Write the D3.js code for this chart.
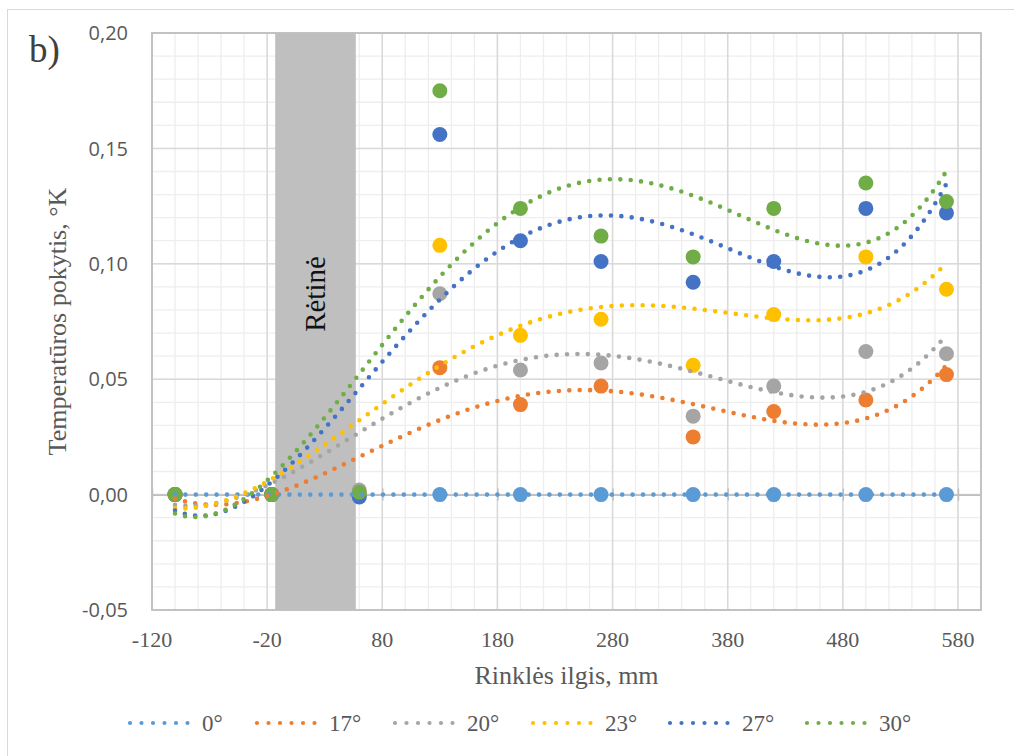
<!DOCTYPE html>
<html>
<head>
<meta charset="utf-8">
<script src="https://cdn.jsdelivr.net/npm/d3@7"></script>
<style>
  html, body { margin: 0; padding: 0; background: #fff; }
  svg { display: block; }
</style>
</head>
<body>
<svg id="chart" width="1014" height="756"></svg>
<script>
// Measurement positions along the fin (mm)
const lengthMm = [-100, -16, 60, 130, 200, 270, 350, 420, 500, 570];

// Temperature change (K) for each inclination angle
const seriesNames = ["0°", "17°", "20°", "23°", "27°", "30°"];
const dT0  = [0, 0, 0, 0, 0, 0, 0, 0, 0, 0];
const dT17 = [0, 0, 0, 0.055, 0.039, 0.047, 0.025, 0.036, 0.041, 0.052];
const dT20 = [0, 0, 0.002, 0.087, 0.054, 0.057, 0.034, 0.047, 0.062, 0.061];
const dT23 = [0, 0, 0, 0.108, 0.069, 0.076, 0.056, 0.078, 0.103, 0.089];
const dT27 = [0, 0, -0.001, 0.156, 0.110, 0.101, 0.092, 0.101, 0.124, 0.122];
const dT30 = [0, 0, 0.001, 0.175, 0.124, 0.112, 0.103, 0.124, 0.135, 0.127];
const seriesValues = [dT0, dT17, dT20, dT23, dT27, dT30];
const seriesColors = ["#5B9BD5", "#ED7D31", "#A5A5A5", "#FFC000", "#4472C4", "#70AD47"];

// Sparse ("Rėtinė") zone along the fin, mm
const sparseZone = [-13, 57];
const sparseLabel = "Rėtinė";

// Axis ticks
const xTicks = [-120, -20, 80, 180, 280, 380, 480, 580];
const yTicks = [-0.05, 0, 0.05, 0.10, 0.15, 0.20];
const yTickLabels = ["-0,05", "0,00", "0,05", "0,10", "0,15", "0,20"];
const polyOrder = 4;

const svg = d3.select("#chart");
const plot = { left: 152, right: 981, top: 33, bottom: 610 };

const x = d3.scaleLinear().domain([-120, 600]).range([plot.left, plot.right]);
const y = d3.scaleLinear().domain([-0.05, 0.20]).range([plot.bottom, plot.top]);

// Outer chart frame
svg.append("rect").attr("x", 7.5).attr("y", 9.5).attr("width", 1100).attr("height", 900)
  .attr("fill", "#fff").attr("stroke", "#D9D9D9").attr("stroke-width", 1);

// Minor gridlines
const g = svg.append("g");
g.selectAll("line.vminor").data(d3.range(-120, 601, 20)).join("line")
  .attr("x1", d => x(d)).attr("x2", d => x(d)).attr("y1", plot.top).attr("y2", plot.bottom)
  .attr("stroke", "#EEEEEE").attr("stroke-width", 1.3);
g.selectAll("line.hminor").data(d3.range(-5, 21).map(i => i / 100)).join("line")
  .attr("x1", plot.left).attr("x2", plot.right).attr("y1", d => y(d)).attr("y2", d => y(d))
  .attr("stroke", "#EEEEEE").attr("stroke-width", 1.3);
// Major gridlines
g.selectAll("line.vmajor").data(xTicks).join("line")
  .attr("x1", d => x(d)).attr("x2", d => x(d)).attr("y1", plot.top).attr("y2", plot.bottom)
  .attr("stroke", "#D9D9D9").attr("stroke-width", 1.5);
g.selectAll("line.hmajor").data(yTicks).join("line")
  .attr("x1", plot.left).attr("x2", plot.right).attr("y1", d => y(d)).attr("y2", d => y(d))
  .attr("stroke", "#D9D9D9").attr("stroke-width", 1.5);

// Sparse zone band
svg.append("rect")
  .attr("x", x(sparseZone[0])).attr("width", x(sparseZone[1]) - x(sparseZone[0]))
  .attr("y", plot.top).attr("height", plot.bottom - plot.top)
  .attr("fill", "#BFBFBF");

// Plot border
svg.append("rect").attr("x", plot.left).attr("y", plot.top)
  .attr("width", plot.right - plot.left).attr("height", plot.bottom - plot.top)
  .attr("fill", "none").attr("stroke", "#BFBFBF").attr("stroke-width", 1.8);

// Horizontal axis line at zero with cross tick marks
const xAxis = d3.axisBottom(x).tickValues(xTicks).tickSizeInner(6).tickSizeOuter(0).tickFormat("");
const xAxisG = svg.append("g").attr("transform", `translate(0,${y(0)})`).call(xAxis);
xAxisG.select(".domain").attr("stroke", "#BFBFBF").attr("stroke-width", 1.8);
xAxisG.selectAll(".tick line").attr("stroke", "#BFBFBF").attr("stroke-width", 1.5).attr("y1", -6);

// Tick labels
svg.append("g").selectAll("text").data(xTicks).join("text")
  .attr("x", d => x(d)).attr("y", 647).attr("text-anchor", "middle")
  .attr("font-family", "Liberation Serif, Times New Roman, serif").attr("font-size", 22)
  .attr("fill", "#595959").text(d => d);
svg.append("g").selectAll("text").data(yTicks).join("text")
  .attr("x", 128).attr("y", d => y(d)).attr("dy", "0.36em").attr("text-anchor", "end")
  .attr("font-family", "Open Sans, sans-serif").attr("font-size", 20)
  .attr("fill", "#595959").text((d, i) => yTickLabels[i]);

// Axis titles
svg.append("text").attr("x", x(240)).attr("y", 684).attr("text-anchor", "middle")
  .attr("font-family", "Liberation Serif, serif").attr("font-size", 26).attr("fill", "#595959")
  .text("Rinklės ilgis, mm");
svg.append("text").attr("transform", `translate(66,${(plot.top + plot.bottom) / 2}) rotate(-90)`)
  .attr("text-anchor", "middle")
  .attr("font-family", "Liberation Serif, serif").attr("font-size", 26).attr("fill", "#595959")
  .text("Temperatūros pokytis, °K");

// Panel letter
svg.append("text").attr("x", 29).attr("y", 62)
  .attr("font-family", "Liberation Serif, serif").attr("font-size", 37).attr("fill", "#404040")
  .text("b)");

// Zone label
svg.append("text")
  .attr("transform", `translate(${(x(sparseZone[0]) + x(sparseZone[1])) / 2 + 10},294) rotate(-90)`)
  .attr("text-anchor", "middle")
  .attr("font-family", "Liberation Serif, serif").attr("font-size", 29).attr("fill", "#111")
  .text(sparseLabel);

// Least-squares polynomial trendline
function polyFit(xs, ys, order) {
  const cx = 235, sx = 335;
  const ts = xs.map(v => (v - cx) / sx);
  const n = order + 1;
  const A = Array.from({ length: n }, () => new Array(n + 1).fill(0));
  ts.forEach((t, k) => {
    for (let i = 0; i < n; i++) {
      for (let j = 0; j < n; j++) A[i][j] += Math.pow(t, i + j);
      A[i][n] += Math.pow(t, i) * ys[k];
    }
  });
  for (let c = 0; c < n; c++) {
    let p = c;
    for (let r = c + 1; r < n; r++) if (Math.abs(A[r][c]) > Math.abs(A[p][c])) p = r;
    [A[c], A[p]] = [A[p], A[c]];
    for (let r = 0; r < n; r++) {
      if (r === c) continue;
      const f = A[r][c] / A[c][c];
      for (let k = c; k <= n; k++) A[r][k] -= f * A[c][k];
    }
  }
  const coef = A.map((row, i) => row[n] / row[i]);
  return v => {
    const t = (v - cx) / sx;
    return coef.reduce((s, c, i) => s + c * Math.pow(t, i), 0);
  };
}

// Markers
seriesValues.forEach((vals, si) => {
  svg.append("g").selectAll("circle").data(vals).join("circle")
    .attr("cx", (d, i) => x(lengthMm[i])).attr("cy", d => y(d)).attr("r", 7.5)
    .attr("fill", seriesColors[si]);
});

// Dotted trendlines
const line = d3.line().x(d => x(d[0])).y(d => y(d[1])).curve(d3.curveLinear);
const xMin = d3.min(lengthMm), xMax = d3.max(lengthMm);
seriesValues.forEach((vals, si) => {
  const f = polyFit(lengthMm, vals, polyOrder);
  const pts = d3.range(xMin, xMax + 0.5, 1).map(v => [v, f(v)]);
  svg.append("path").attr("d", line(pts)).attr("fill", "none")
    .attr("stroke", seriesColors[si]).attr("stroke-width", 4.6)
    .attr("stroke-linecap", "round").attr("stroke-dasharray", "0 10.4");
});

// Legend
const legendStarts = [130, 257, 395, 533, 670, 807];
const legend = svg.append("g");
seriesNames.forEach((name, si) => {
  const lx = legendStarts[si];
  legend.append("line").attr("x1", lx).attr("x2", lx + 69).attr("y1", 723).attr("y2", 723)
    .attr("stroke", seriesColors[si]).attr("stroke-width", 4.2)
    .attr("stroke-linecap", "round").attr("stroke-dasharray", "0 11.5");
  legend.append("text").attr("x", lx + 72).attr("y", 731)
    .attr("font-family", "Liberation Serif, serif").attr("font-size", 23).attr("fill", "#595959")
    .text(name);
});
</script>
</body>
</html>
